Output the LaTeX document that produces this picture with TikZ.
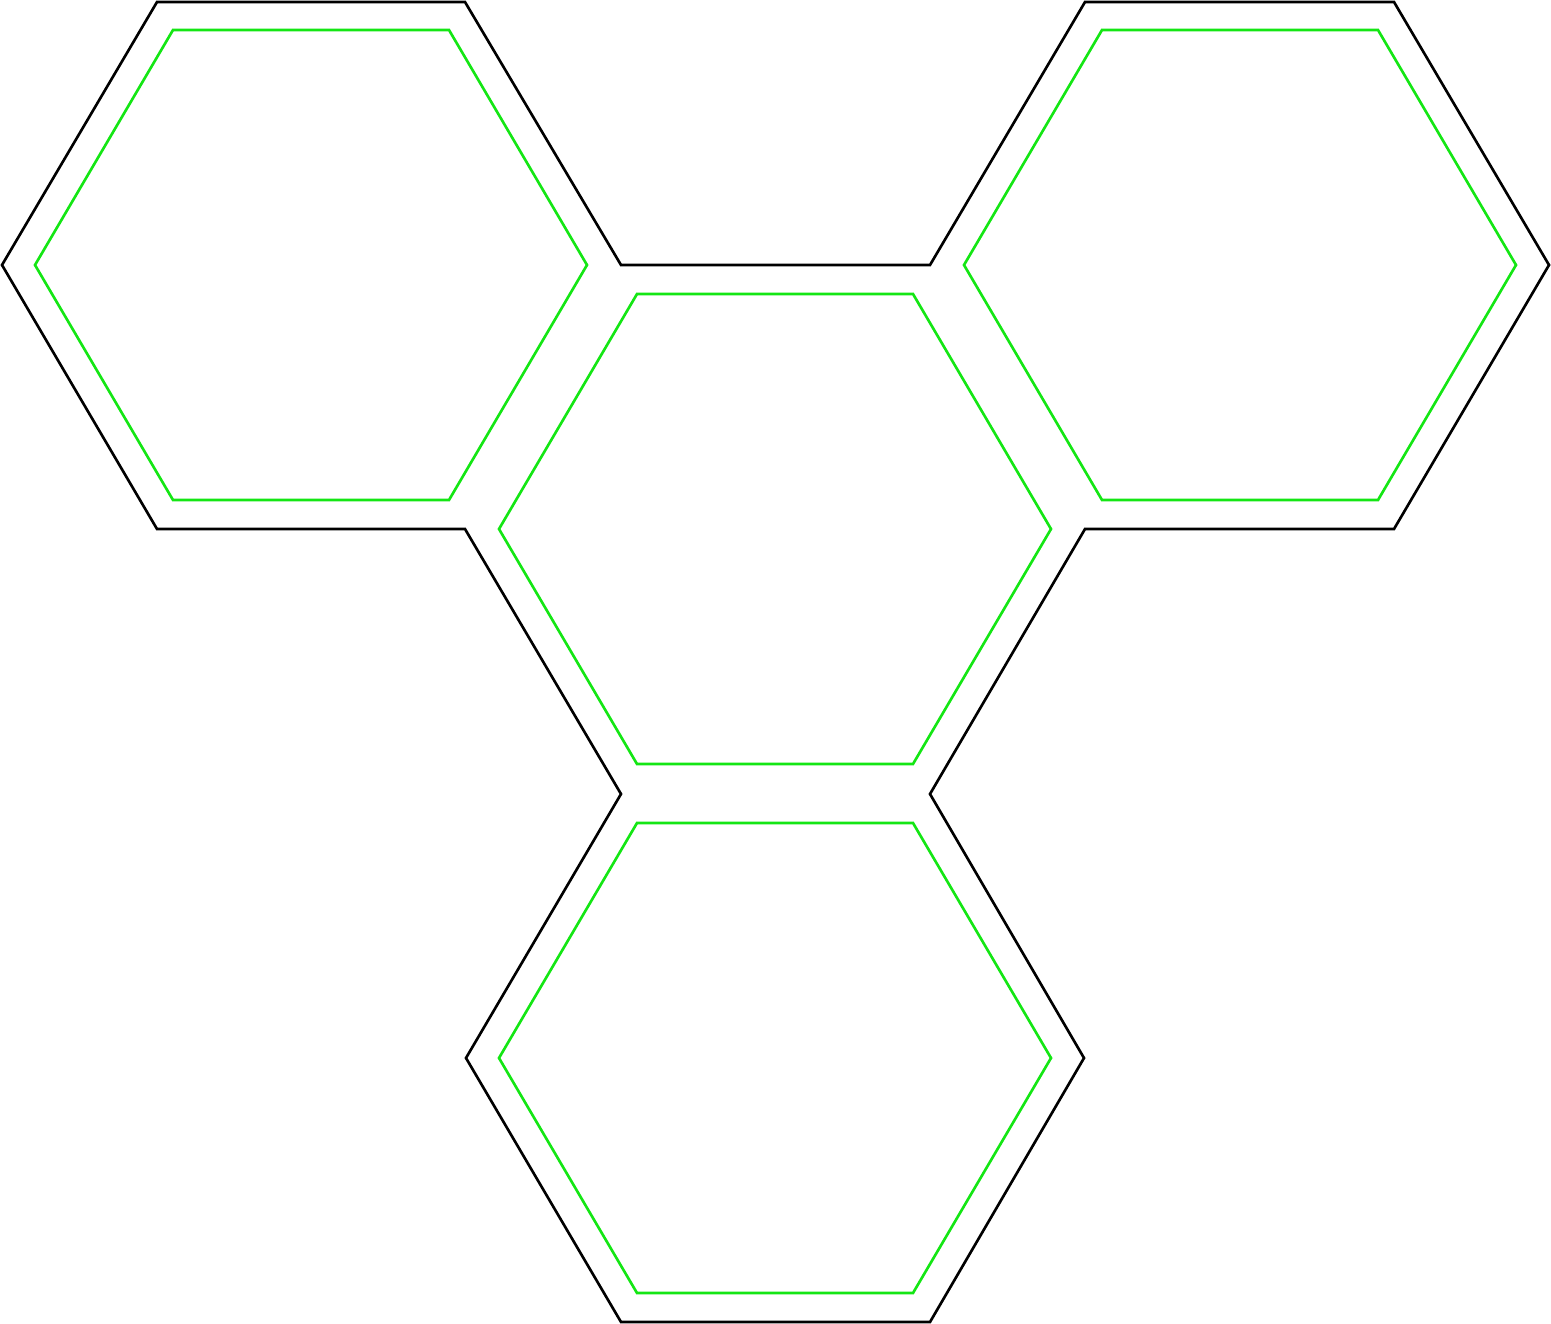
\documentclass[tikz,border=0pt]{standalone}
\usepackage{tikz}
\usetikzlibrary{calc}

\definecolor{cellgreen}{RGB}{20,230,20}

\tikzset{
    outline/.style={draw=black,line width=0.75pt,line join=miter},
    cellhex/.style={draw=cellgreen,line width=0.75pt,line join=miter}
}

\begin{document}
\begin{tikzpicture}[x=0.01cm,y=-0.01cm]
    \useasboundingbox (0,0) rectangle (1551,1324);

    % Outer border of the four cells
    \draw[outline] (2,265) -- (157,2) -- (465,2) -- (621,265) -- (930,265)
        -- (1085,2) -- (1394,2) -- (1549,265) -- (1394,529) -- (1085,529)
        -- (930,794) -- (1084,1058) -- (930,1322) -- (621,1322)
        -- (466,1058) -- (621,794) -- (465,529) -- (157,529) -- cycle;

    % Inner cells
    \foreach \cx/\cy/\name in {311/265/left, 1240/265/right, 775/529/middle, 775/1058/bottom}{
        \draw[cellhex] ($(\cx,\cy)+(-276,0)$) -- ($(\cx,\cy)+(-138,-235)$)
            -- ($(\cx,\cy)+(138,-235)$) -- ($(\cx,\cy)+(276,0)$)
            -- ($(\cx,\cy)+(138,235)$) -- ($(\cx,\cy)+(-138,235)$) -- cycle;
    }
\end{tikzpicture}
\end{document}
